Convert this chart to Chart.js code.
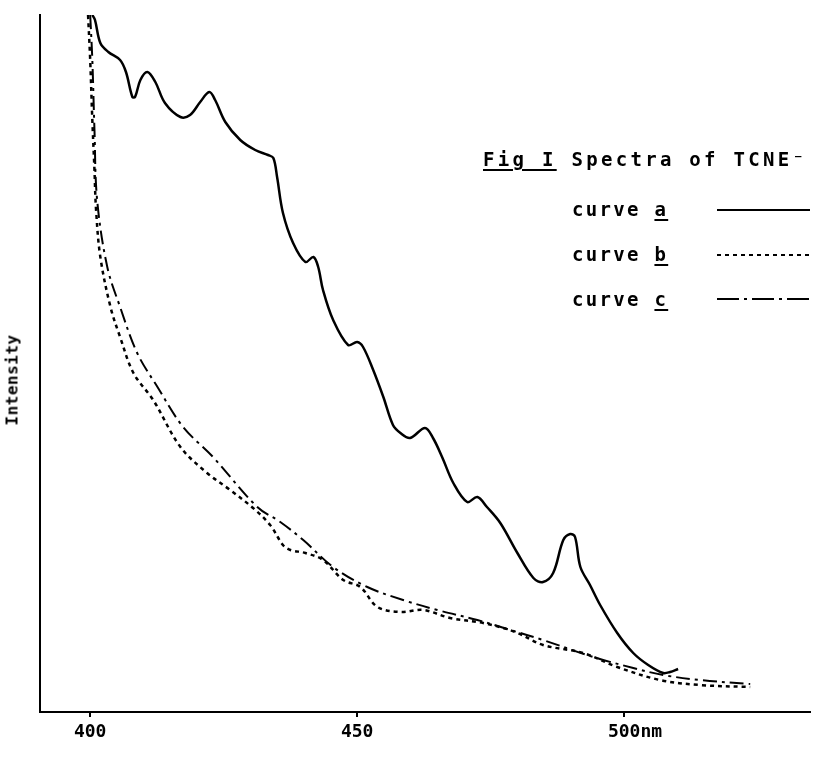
<!DOCTYPE html>
<html>
<head>
<meta charset="utf-8">
<title>Fig I Spectra of TCNE⁻</title>
<script src="https://cdn.jsdelivr.net/npm/chart.js@4/dist/chart.umd.min.js"></script>
<style>
  body { margin: 0; background: #fff; }
  #wrap { position: relative; width: 816px; height: 758px; }
  .lg { position: absolute; font: bold 19px 'DejaVu Sans Mono', monospace; letter-spacing: 2.3px; color: #000; white-space: pre; }
  .lg u { text-decoration-thickness: 2px; text-underline-offset: 3px; }
  #ylab { position: absolute; left: 12px; top: 380px; transform: translate(-50%, -50%) rotate(-90deg);
          font: bold 16px 'DejaVu Sans Mono', monospace; letter-spacing: 0.5px; color: #000; white-space: pre; }
</style>
</head>
<body>
<div id="wrap">
  <canvas id="spectra" width="816" height="758"></canvas>
  <div id="ylab">Intensity</div>
  <div class="lg" style="left:483px; top:148px; letter-spacing:3.3px;"><u>Fig I</u> Spectra of TCNE⁻</div>
  <div class="lg" style="left:572px; top:198px;">curve <u>a</u></div>
  <div class="lg" style="left:572px; top:243px;">curve <u>b</u></div>
  <div class="lg" style="left:572px; top:288px;">curve <u>c</u></div>
</div>
<script>
// wavelengths (nm) and intensity (arbitrary units)
const waveA = [400.4, 400.9, 401.9, 403.4, 405.6, 406.7, 407.9, 408.4, 409.4, 410.7, 412.2, 414.0, 416.9, 418.7, 420.6, 422.3, 423.4, 425.3, 428.1, 430.9, 433.3, 434.3, 435.0, 436.1, 438.0, 440.3, 441.8, 442.7, 443.6, 445.5, 448.3, 450.0, 451.1, 453.0, 454.9, 456.7, 458.1, 459.9, 462.7, 464.2, 465.9, 468.0, 470.6, 472.5, 474.3, 476.8, 480.0, 483.0, 484.8, 486.7, 488.6, 489.9, 490.8, 491.8, 493.6, 495.5, 498.7, 501.7, 504.5, 507.3, 508.6, 510.1];
const intensA = [697, 692, 669, 660, 652, 640, 615, 615, 632, 640, 630, 609, 595, 597, 610, 620, 612, 590, 572, 562, 557, 554, 535, 499, 469, 450, 455, 445, 422, 392, 367, 370, 365, 342, 315, 287, 279, 274, 284, 274, 255, 229, 210, 215, 205, 189, 159, 134, 130, 139, 172, 178, 175, 145, 127, 107, 79, 59, 47, 39, 40, 43];

const waveB = [399.6, 400.0, 400.4, 400.8, 401.1, 401.9, 403.8, 405.6, 408.1, 411.8, 416.9, 421.9, 426.2, 430.5, 433.7, 436.1, 437.5, 440.3, 443.6, 447.4, 450.6, 453.8, 458.1, 462.4, 467.4, 473.6, 479.6, 484.8, 492.3, 498.7, 506.7, 514.2, 523.6];
const intensB = [697, 652, 592, 542, 502, 455, 405, 375, 339, 312, 265, 239, 222, 204, 187, 167, 162, 159, 152, 132, 125, 105, 100, 102, 94, 89, 80, 67, 59, 45, 32, 27, 25];

const waveC = [400.0, 400.4, 400.8, 401.3, 403.2, 405.6, 408.8, 412.6, 417.4, 423.0, 431.3, 435.6, 439.9, 445.5, 451.9, 458.6, 465.0, 472.5, 478.7, 484.8, 494.2, 501.7, 507.3, 514.2, 523.6];
const intensC = [697, 652, 582, 512, 445, 405, 359, 325, 285, 255, 205, 190, 172, 145, 125, 112, 102, 92, 82, 72, 55, 44, 37, 32, 28];

const xTicks = [400, 450, 500];
const xTickLabels = ['400', '450', '  500nm'];

function pts(xs, ys) {
  return xs.map((x, i) => ({ x: x, y: ys[i] }));
}

// sample lines next to "curve a/b/c"
const legendLines = {
  id: 'legendLines',
  afterDraw(chart) {
    const ctx = chart.ctx;
    const rows = [
      { y: 210, dash: [], w: 2 },
      { y: 255, dash: [4, 4], w: 2 },
      { y: 299, dash: [22, 5, 3, 5], w: 2 }
    ];
    ctx.save();
    ctx.strokeStyle = '#000';
    rows.forEach(r => {
      ctx.setLineDash(r.dash);
      ctx.lineWidth = r.w;
      ctx.beginPath();
      ctx.moveTo(717, r.y);
      ctx.lineTo(810, r.y);
      ctx.stroke();
    });
    ctx.restore();
  }
};

const ctx = document.getElementById('spectra').getContext('2d');
new Chart(ctx, {
  type: 'line',
  data: {
    datasets: [
      {
        label: 'curve a',
        data: pts(waveA, intensA),
        borderColor: '#000',
        borderWidth: 2.5,
        tension: 0.35
      },
      {
        label: 'curve b',
        data: pts(waveB, intensB),
        borderColor: '#000',
        borderWidth: 2.5,
        borderDash: [4, 4],
        tension: 0.35
      },
      {
        label: 'curve c',
        data: pts(waveC, intensC),
        borderColor: '#000',
        borderWidth: 2,
        borderDash: [14, 5, 3, 5],
        tension: 0.35
      }
    ]
  },
  options: {
    responsive: false,
    animation: false,
    devicePixelRatio: 1,
    elements: { point: { radius: 0 } },
    layout: { padding: { top: 15, right: 6, left: 0, bottom: 0 } },
    plugins: {
      legend: { display: false },
      tooltip: { enabled: false }
    },
    scales: {
      x: {
        type: 'linear',
        min: 390.6,
        max: 534.8,
        afterBuildTicks: s => { s.ticks = xTicks.map(v => ({ value: v })); },
        afterFit: s => { s.height = 46; },
        ticks: {
          autoSkip: false,
          maxRotation: 0,
          padding: 5,
          color: '#000',
          font: { family: 'DejaVu Sans Mono', size: 18, weight: 'bold' },
          callback: (v) => xTickLabels[xTicks.indexOf(v)]
        },
        grid: { display: true, drawOnChartArea: false, drawTicks: true, tickLength: 5, color: '#000', lineWidth: 2 },
        border: { display: true, color: '#000', width: 2 }
      },
      y: {
        min: 0,
        max: 697,
        afterFit: s => { s.width = 40; },
        ticks: { display: false },
        grid: { display: false },
        border: { display: true, color: '#000', width: 2 }
      }
    }
  },
  plugins: [legendLines]
});
</script>
</body>
</html>
